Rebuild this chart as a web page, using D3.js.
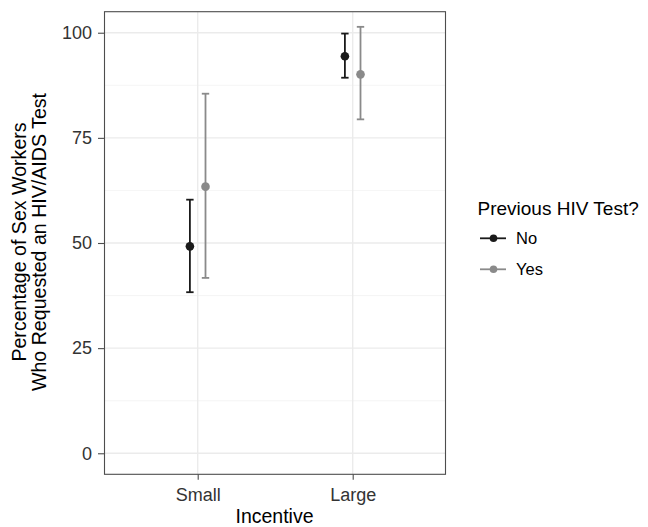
<!DOCTYPE html>
<html>
<head>
<meta charset="utf-8">
<script src="https://cdn.jsdelivr.net/npm/d3@7"></script>
<style>
  body { margin: 0; background: #fff; }
  text { font-family: "Liberation Sans", Arial, sans-serif; }
</style>
</head>
<body>
<div id="chart"></div>
<script>
// data
const incentives = ["Small", "Large"];
const groups = ["No", "Yes"];
const estNo  = [49.2, 94.4];
const lowNo  = [38.3, 89.3];
const highNo = [60.3, 99.8];
const estYes  = [63.4, 90.1];
const lowYes  = [41.7, 79.4];
const highYes = [85.5, 101.4];
const yTicks = [0, 25, 50, 75, 100];
const yMinor = [12.5, 37.5, 62.5, 87.5];

const colors = {No: "#1a1a1a", Yes: "#8a8a8a"};

const rows = [];
incentives.forEach((inc, i) => {
  rows.push({inc: inc, grp: "No", est: estNo[i], lo: lowNo[i], hi: highNo[i]});
  rows.push({inc: inc, grp: "Yes", est: estYes[i], lo: lowYes[i], hi: highYes[i]});
});

const W = 648, H = 527;
const panel = {left: 104.5, right: 445.5, top: 11.7, bottom: 474.3};

const svg = d3.select("#chart").append("svg")
    .attr("width", W).attr("height", H);

const y = d3.scaleLinear().domain([-5, 105]).range([panel.bottom, panel.top]);
// discrete axis, 0.6 unit padding each side
const x = d3.scalePoint().domain(incentives).range([197.7, 352.7]);
const dodge = d3.scalePoint().domain(groups).range([-7.8, 7.8]);

const g = svg.append("g");

// grid
g.selectAll(".minor").data(yMinor).enter().append("line")
    .attr("x1", panel.left).attr("x2", panel.right)
    .attr("y1", d => y(d)).attr("y2", d => y(d))
    .style("stroke", "#f3f3f3").style("stroke-width", 0.8);
g.selectAll(".major").data(yTicks).enter().append("line")
    .attr("x1", panel.left).attr("x2", panel.right)
    .attr("y1", d => y(d)).attr("y2", d => y(d))
    .style("stroke", "#ebebeb").style("stroke-width", 1.4);
g.selectAll(".xmajor").data(incentives).enter().append("line")
    .attr("x1", d => x(d)).attr("x2", d => x(d))
    .attr("y1", panel.top).attr("y2", panel.bottom)
    .style("stroke", "#ebebeb").style("stroke-width", 1.4);

// error bars
const capW = 3.7;
const bars = g.selectAll(".bar").data(rows).enter().append("g")
    .attr("transform", d => "translate(" + (x(d.inc) + dodge(d.grp)) + ",0)")
    .style("stroke", d => colors[d.grp])
    .style("stroke-width", 1.8);
bars.append("line").attr("x1", 0).attr("x2", 0)
    .attr("y1", d => y(d.lo)).attr("y2", d => y(d.hi));
bars.append("line").attr("x1", -capW).attr("x2", capW)
    .attr("y1", d => y(d.lo)).attr("y2", d => y(d.lo));
bars.append("line").attr("x1", -capW).attr("x2", capW)
    .attr("y1", d => y(d.hi)).attr("y2", d => y(d.hi));
g.selectAll(".pt").data(rows).enter().append("circle")
    .attr("cx", d => x(d.inc) + dodge(d.grp))
    .attr("cy", d => y(d.est))
    .attr("r", 4.3)
    .style("fill", d => colors[d.grp]);

// panel border
g.append("rect")
    .attr("x", panel.left).attr("y", panel.top)
    .attr("width", panel.right - panel.left).attr("height", panel.bottom - panel.top)
    .style("fill", "none").style("stroke", "#4d4d4d").style("stroke-width", 1.1);

// axes
const yAxis = svg.append("g")
    .attr("transform", "translate(" + panel.left + ",0)")
    .call(d3.axisLeft(y).tickValues(yTicks).tickSize(6.5).tickPadding(6));
const xAxis = svg.append("g")
    .attr("transform", "translate(0," + panel.bottom + ")")
    .call(d3.axisBottom(x).tickSize(5.5).tickPadding(8.5));
[yAxis, xAxis].forEach(a => {
  a.select(".domain").remove();
  a.selectAll(".tick line").style("stroke", "#4d4d4d").style("stroke-width", 1.1);
  a.selectAll(".tick text").style("fill", "#333").style("font-size", "18px")
    .style("font-family", "'Liberation Sans', Arial, sans-serif");
});

// axis titles
svg.append("text")
    .attr("x", 274.5).attr("y", 522.5)
    .attr("text-anchor", "middle")
    .style("font-size", "19.5px").style("fill", "#000")
    .text("Incentive");
const yt = svg.append("text")
    .attr("transform", "translate(0,242) rotate(-90)")
    .attr("text-anchor", "middle")
    .style("font-size", "19.6px").style("fill", "#000");
yt.append("tspan").attr("x", 0).attr("y", 25.7).text("Percentage of Sex Workers");
yt.append("tspan").attr("x", 0).attr("y", 45.7).text("Who Requested an HIV/AIDS Test");

// legend
const leg = svg.append("g").attr("transform", "translate(477.5,0)");
leg.append("text").attr("x", 0).attr("y", 215)
    .style("font-size", "19px").text("Previous HIV Test?");
const items = leg.selectAll(".item").data(groups).enter().append("g")
    .attr("transform", (d, i) => "translate(0," + (238.3 + i * 31) + ")");
items.append("line").attr("x1", 2.5).attr("x2", 28.5)
    .style("stroke", d => colors[d]).style("stroke-width", 1.8);
items.append("circle").attr("cx", 16).attr("r", 3.8)
    .style("fill", d => colors[d]);
items.append("text").attr("x", 38.5).attr("y", 5.8)
    .style("font-size", "16.5px").text(d => d);
</script>
</body>
</html>
